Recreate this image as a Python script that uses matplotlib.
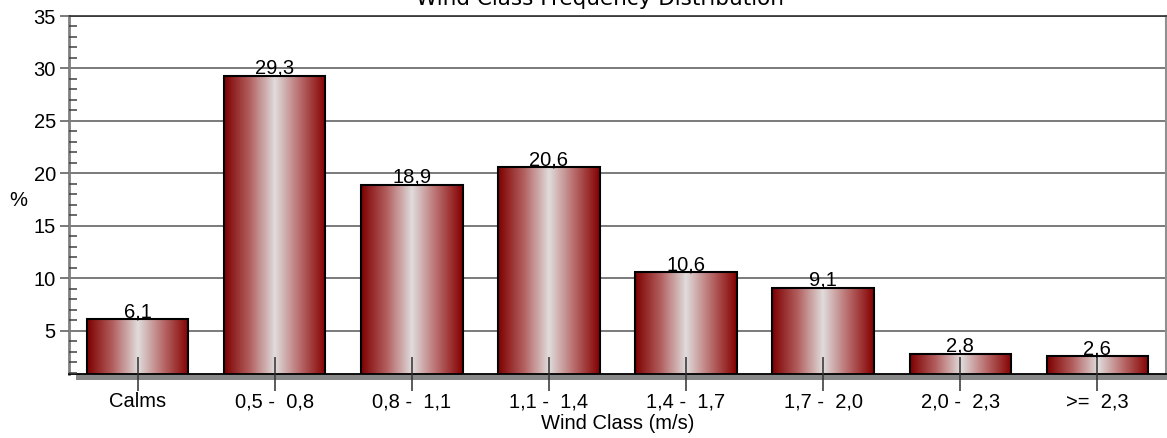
import numpy as np
import matplotlib
matplotlib.use("Agg")
import matplotlib.pyplot as plt
from matplotlib.colors import LinearSegmentedColormap
from matplotlib.patches import Rectangle
from matplotlib.ticker import MultipleLocator

categories = ["Calms", "0,5 -  0,8", "0,8 -  1,1", "1,1 -  1,4", "1,4 -  1,7",
              "1,7 -  2,0", "2,0 -  2,3", ">=  2,3"]
values = [6.1, 29.3, 18.9, 20.6, 10.6, 9.1, 2.8, 2.6]
value_labels = ["6,1", "29,3", "18,9", "20,6", "10,6", "9,1", "2,8", "2,6"]
y_major = [5, 10, 15, 20, 25, 30, 35]

plt.rcParams['font.family'] = ['Liberation Sans', 'DejaVu Sans']
FS = 14.5

fig = plt.figure(figsize=(11.67, 4.38), dpi=100)
ax = fig.add_axes([69/1167, 1-374/438, 1097/1167, 358/438])

x = np.arange(len(categories))
bars = ax.bar(x, values, width=0.74, color='none', edgecolor='black',
              linewidth=1.5, zorder=3)

cmap = LinearSegmentedColormap.from_list(
    "bar", [(0.0, "#7e0000"), (0.25, "#b25e5e"), (0.5, "#e0dcdc"),
            (0.75, "#b86a6a"), (1.0, "#850000")])
grad = np.linspace(0, 1, 256).reshape(1, -1)
for b in bars:
    x0, y0 = b.get_x(), b.get_y()
    w, h = b.get_width(), b.get_height()
    ax.imshow(grad, extent=(x0, x0 + w, y0, y0 + h), cmap=cmap,
              aspect='auto', zorder=2, interpolation='bilinear')

for b, lab in zip(bars, value_labels):
    ax.annotate(lab, (b.get_x() + b.get_width()/2, b.get_height()),
                xytext=(0, 1.5), textcoords='offset points',
                ha='center', va='baseline', fontsize=FS, zorder=5)

for yv in y_major:
    ax.axhline(yv, color='#7a7a7a', linewidth=1.4, zorder=0.5)

ax.set_xlim(-0.5, len(categories) - 0.5)
ax.set_ylim(0.9, 35)
ax.set_xticks(x)
ax.set_xticklabels(categories, fontsize=FS)
ax.set_yticks(y_major)
ax.set_yticklabels([str(v) for v in y_major], fontsize=FS)
ax.yaxis.set_minor_locator(MultipleLocator(1))

ax.tick_params(axis='x', direction='inout', length=24, width=1.1,
               color='#303030', pad=1)
ax.tick_params(axis='y', which='major', direction='out', length=6.5,
               width=1.3, color='#707070', pad=3)
ax.tick_params(axis='y', which='minor', direction='in', length=6,
               width=1.1, color='#404040')
ax.set_axisbelow(False)

ax.spines['left'].set_color('#808080')
ax.spines['left'].set_linewidth(2)
ax.spines['right'].set_color('#909090')
ax.spines['right'].set_linewidth(1.5)
ax.spines['top'].set_color('#303030')
ax.spines['top'].set_linewidth(1.2)
ax.spines['bottom'].set_color('black')
ax.spines['bottom'].set_linewidth(1.3)

# shadow band below the x axis
shadow = Rectangle((7/1097, -6/358), 1.0, 6/358, transform=ax.transAxes,
                   facecolor='#888888', edgecolor='none', clip_on=False,
                   zorder=1)
ax.add_patch(shadow)

ax.set_xlabel("Wind Class (m/s)", fontsize=FS, labelpad=2)
ax.set_ylabel("%", fontsize=FS, rotation=0, labelpad=0)
ax.yaxis.set_label_coords(-51/1097, (374-200)/358, transform=ax.transAxes)
ax.yaxis.label.set_va('center')

fig.text(600/1167, 1 - 5/438, "Wind Class Frequency Distribution",
         ha='center', va='baseline', fontsize=15.5, family='DejaVu Sans')

fig.savefig("out.png", dpi=100)
